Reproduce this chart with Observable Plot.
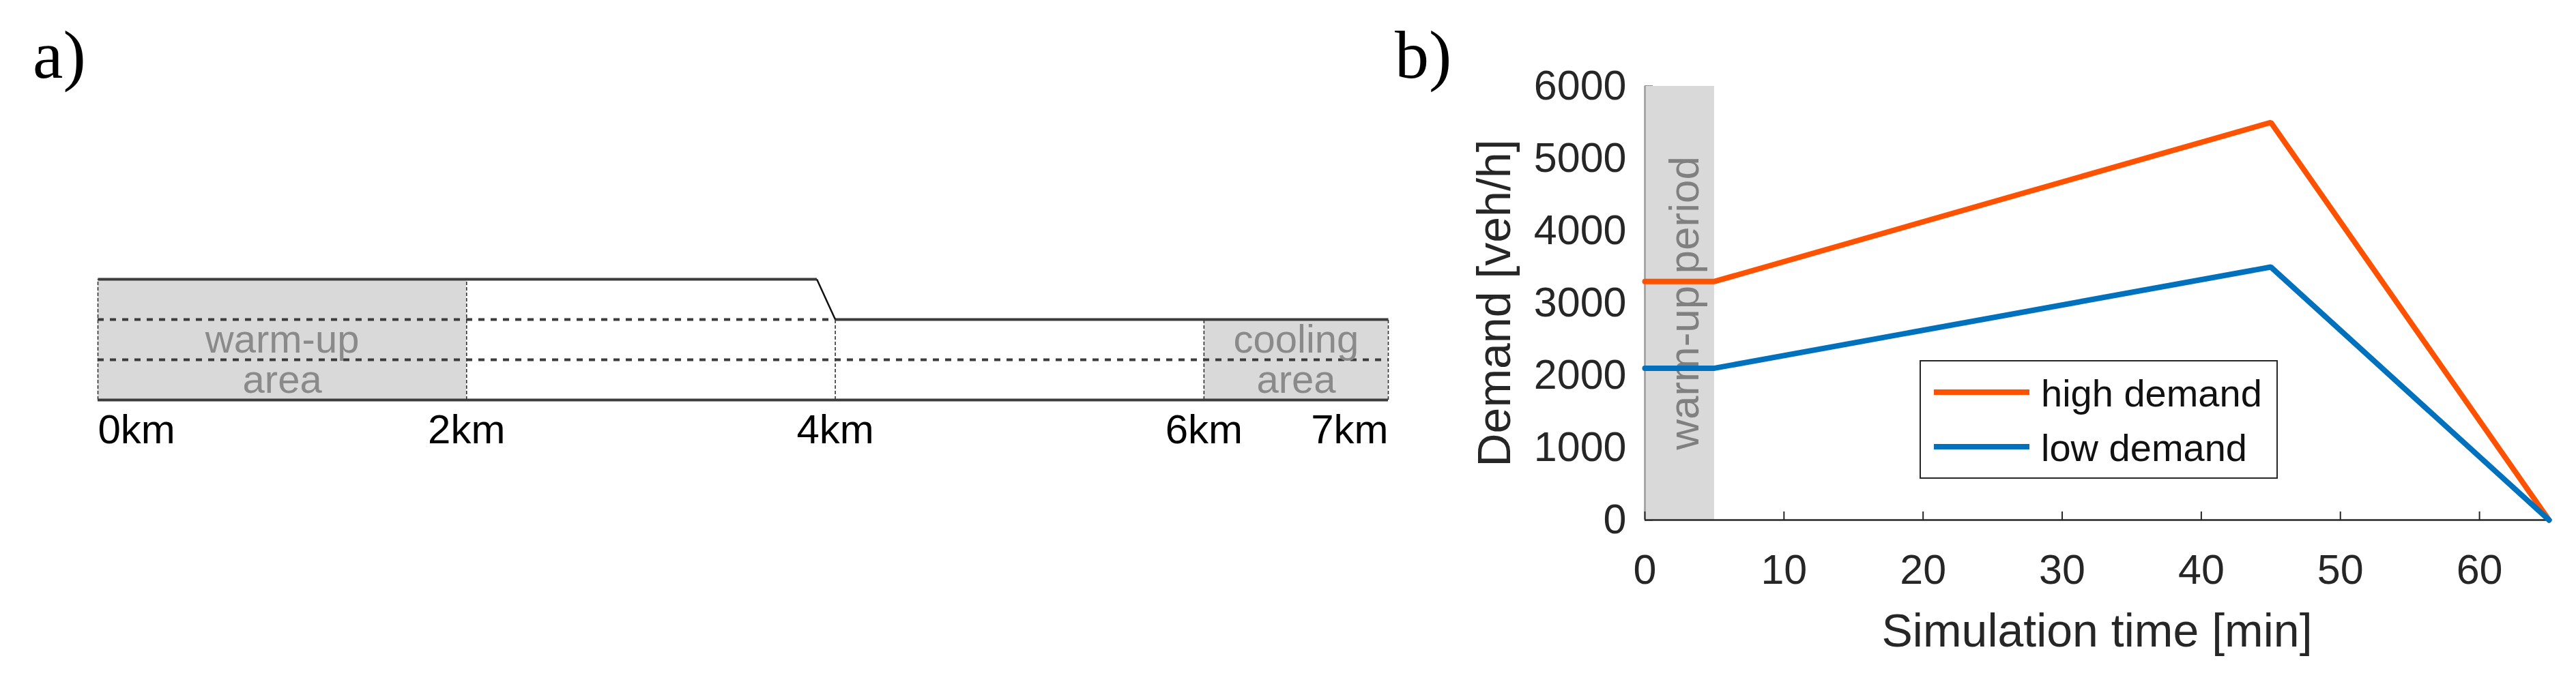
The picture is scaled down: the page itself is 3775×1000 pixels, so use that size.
<!DOCTYPE html>
<html>
<head>
<meta charset="utf-8">
<script src="https://cdn.jsdelivr.net/npm/d3@7"></script>
<script src="https://cdn.jsdelivr.net/npm/@observablehq/plot@0.6"></script>
<style>
html, body { margin: 0; padding: 0; background: #fff; }
#root { position: relative; width: 3775px; height: 1000px; overflow: hidden; font-family: "Liberation Sans", Arial, sans-serif; }
.panel { position: absolute; top: 0; }
.plabel { position: absolute; font-family: "Liberation Serif", "Times New Roman", serif; font-size: 100px; line-height: 100px; color: #000; white-space: nowrap; }
.legend { position: absolute; border: 2px solid #262626; background: #fff; box-sizing: border-box; }
.swatch { position: absolute; height: 8px; }
.ltext { position: absolute; font-size: 56px; line-height: 56px; color: #111; white-space: nowrap; }
</style>
</head>
<body>
<div id="root"></div>
<script>
// ---------- Panel a: road layout ----------
const kmTicks = [0, 2, 4, 6, 7];
const roadKm = [0, 3.9, 4, 7];      // outline breakpoints (km)
const roadLanes = [3, 3, 2, 2];     // number of lanes at each breakpoint
const zoneNames = ["warm-up\narea", "cooling\narea"];
const zoneStart = [0, 6];
const zoneEnd = [2, 7];
const dividerLane = [1, 2];
const dividerEnd = [7, 4];

// ---------- Panel b: demand profile ----------
const timeMin = [0, 5, 45, 65];
const seriesNames = ["high demand", "low demand"];
const highDemand = [3300, 3300, 5500, 0];
const lowDemand = [2100, 2100, 3500, 0];
const seriesColors = ["#ff5200", "#0072bd"];
const warmupPeriod = [0, 5];
const warmupText = "warm-up period";
const warmupTextAt = [2.9, 3000];
const xTicksB = [0, 10, 20, 30, 40, 50, 60];
const yTicksB = [0, 1000, 2000, 3000, 4000, 5000, 6000];

const root = document.getElementById("root");

// ----- build panel a -----
const lanesAt = km => roadLanes[d3.bisectRight(roadKm, km) - 1];
const zones = zoneNames.map((name, i) => ({name, start: zoneStart[i], end: zoneEnd[i], lanes: lanesAt(zoneStart[i])}));
const dividers = dividerLane.map((lane, i) => ({lane, from: roadKm[0], to: dividerEnd[i]}));
const outline = d3.pairs(roadKm.map((km, i) => ({km, lanes: roadLanes[i]})));
const flatEdges = outline.filter(([a, b]) => a.lanes === b.lanes);
const taperEdges = outline.filter(([a, b]) => a.lanes !== b.lanes);
const kmFmt = d => d + "km";

const plotA = Plot.plot({
  width: 2040, height: 1000,
  marginLeft: 143, marginRight: 6, marginTop: 409, marginBottom: 414,
  x: {domain: [0, 7]},
  y: {domain: [0, 3], axis: null},
  style: {fontFamily: "Liberation Sans, Arial, sans-serif", background: "transparent", overflow: "visible"},
  marks: [
    Plot.rect(zones, {x1: "start", x2: "end", y1: 0, y2: "lanes", fill: "#d9d9d9"}),
    Plot.ruleX(kmTicks, {x: d => d, y1: 0, y2: d => lanesAt(d), stroke: "#333", strokeWidth: 1.6, strokeDasharray: "5,3"}),
    Plot.ruleY(dividers, {y: "lane", x1: "from", x2: "to", stroke: "#3c3c3c", strokeWidth: 4, strokeDasharray: "9,9"}),
    Plot.text(zones, {x: d => (d.start + d.end) / 2, y: 1, text: "name", fontSize: 58, lineHeight: 1.02, fill: "#8a8a8a"}),
    Plot.link(flatEdges, {x1: d => d[0].km, y1: d => d[0].lanes, x2: d => d[1].km, y2: d => d[1].lanes, stroke: "#3c3c3c", strokeWidth: 4}),
    Plot.link(taperEdges, {x1: d => d[0].km, y1: d => d[0].lanes, x2: d => d[1].km, y2: d => d[1].lanes, stroke: "#111", strokeWidth: 2.5}),
    Plot.ruleY([0], {x1: roadKm[0], x2: roadKm[roadKm.length - 1], stroke: "#3c3c3c", strokeWidth: 4}),
    Plot.axisX(kmTicks.slice(0, 1), {tickSize: 0, tickPadding: 21, tickFormat: kmFmt, textAnchor: "start", fontSize: 60, fill: "#000", label: null}),
    Plot.axisX(kmTicks.slice(1, -1), {tickSize: 0, tickPadding: 21, tickFormat: kmFmt, fontSize: 60, fill: "#000", label: null}),
    Plot.axisX(kmTicks.slice(-1), {tickSize: 0, tickPadding: 21, tickFormat: kmFmt, textAnchor: "end", fontSize: 60, fill: "#000", label: null})
  ]
});
plotA.classList.add("panel");
plotA.style.left = "0px";
root.appendChild(plotA);

// ----- build panel b -----
const seriesValues = [highDemand, lowDemand];
const rows = seriesNames.flatMap((s, si) => timeMin.map((t, i) => ({series: s, t, v: seriesValues[si][i]})));
const plainFmt = d => String(d);

const plotB = Plot.plot({
  width: 1735, height: 1000,
  marginLeft: 370, marginRight: 40, marginTop: 126, marginBottom: 238,
  x: {domain: [0, 65]},
  y: {domain: [0, 6000]},
  color: {domain: seriesNames, range: seriesColors},
  style: {fontFamily: "Liberation Sans, Arial, sans-serif", background: "transparent", overflow: "visible"},
  marks: [
    Plot.axisY(yTicksB, {tickSize: -12, tickPadding: 39, tickFormat: plainFmt, fontSize: 61, fill: "#262626", stroke: "#262626", strokeWidth: 2, label: null}),
    Plot.rect([warmupPeriod], {x1: d => d[0], x2: d => d[1], fill: "#d9d9d9"}),
    Plot.ruleX([0], {stroke: "#9a9a9a", strokeWidth: 2.5}),
    Plot.text([warmupText], {x: () => warmupTextAt[0], y: () => warmupTextAt[1], text: d => d, rotate: -90, fontSize: 62, fill: "#808080"}),
    Plot.ruleY([0], {stroke: "#262626", strokeWidth: 2.5}),
    Plot.axisX(xTicksB, {tickSize: -12, tickPadding: 62, tickFormat: plainFmt, fontSize: 61, fill: "#262626", stroke: "#262626", strokeWidth: 2, label: null}),
    Plot.axisX({ticks: [], label: "Simulation time [min]", labelAnchor: "center", labelArrow: "none", labelOffset: 185, fontSize: 68, fill: "#262626"}),
    Plot.axisY({ticks: [], label: "Demand [veh/h]", labelAnchor: "center", labelArrow: "none", labelOffset: 246, fontSize: 68, fill: "#262626"}),
    Plot.line(rows, {x: "t", y: "v", z: "series", stroke: "series", strokeWidth: 8, strokeLinejoin: "miter"})
  ]
});
plotB.classList.add("panel");
plotB.style.left = "2040px";
root.appendChild(plotB);

// ----- panel labels -----
[["a)", 48], ["b)", 2044]].forEach(([t, left]) => {
  const d = document.createElement("div");
  d.className = "plabel";
  d.textContent = t;
  d.style.left = left + "px";
  d.style.top = "31px";
  root.appendChild(d);
});

// ----- legend -----
const legend = document.createElement("div");
legend.className = "legend";
Object.assign(legend.style, {left: "2813px", top: "528px", width: "525px", height: "174px"});
root.appendChild(legend);
seriesNames.forEach((name, i) => {
  const lineY = 575 + i * 80;
  const sw = document.createElement("div");
  sw.className = "swatch";
  Object.assign(sw.style, {left: "2834px", top: (lineY - 4) + "px", width: "140px", background: seriesColors[i]});
  root.appendChild(sw);
  const tx = document.createElement("div");
  tx.className = "ltext";
  tx.textContent = name;
  Object.assign(tx.style, {left: "2991px", top: (lineY + 21 - 47.4) + "px"});
  root.appendChild(tx);
});
</script>
</body>
</html>
